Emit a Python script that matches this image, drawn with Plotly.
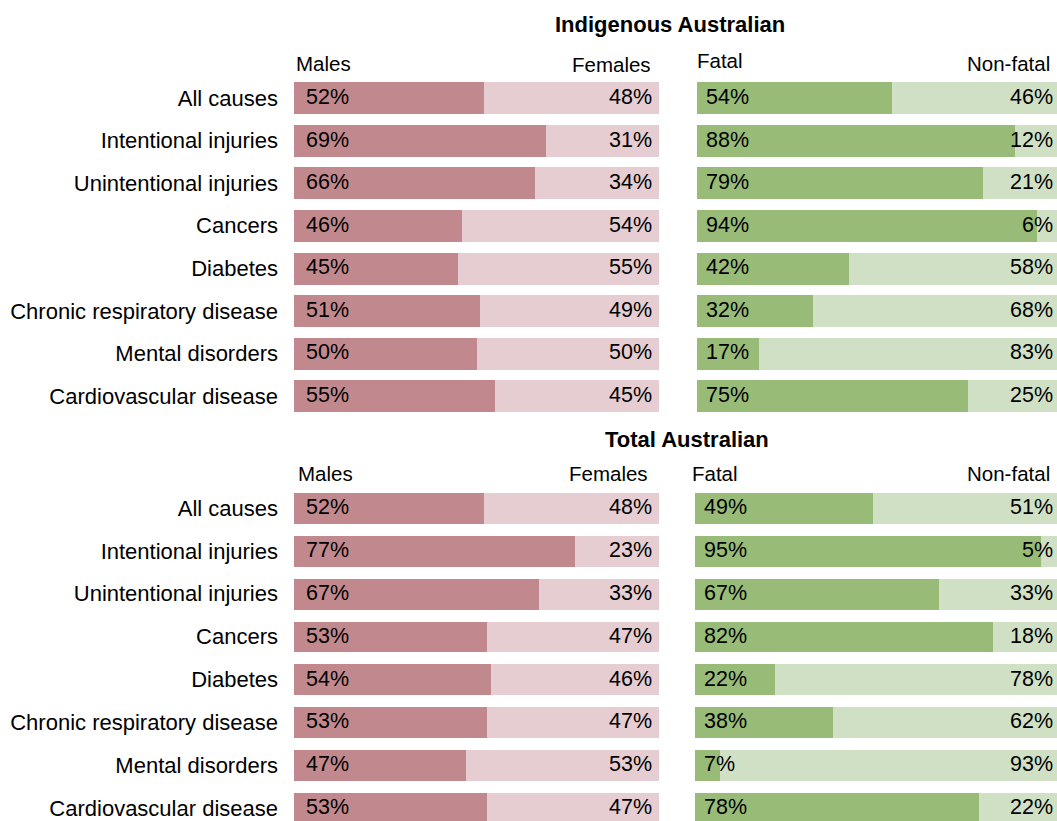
import plotly.graph_objects as go

categories = ["All causes", "Intentional injuries", "Unintentional injuries", "Cancers",
              "Diabetes", "Chronic respiratory disease", "Mental disorders", "Cardiovascular disease"]

indig_males = [52, 69, 66, 46, 45, 51, 50, 55]
indig_females = [48, 31, 34, 54, 55, 49, 50, 45]
indig_fatal = [54, 88, 79, 94, 42, 32, 17, 75]
indig_nonfatal = [46, 12, 21, 6, 58, 68, 83, 25]

total_males = [52, 77, 67, 53, 54, 53, 47, 53]
total_females = [48, 23, 33, 47, 46, 47, 53, 47]
total_fatal = [49, 95, 67, 82, 22, 38, 7, 78]
total_nonfatal = [51, 5, 33, 18, 78, 62, 93, 22]

W, H = 1057, 821
FONT = "Liberation Sans, Arial, sans-serif"
C_MALE, C_FEMALE = "#C1898D", "#E6CDD1"
C_FATAL, C_NONFATAL = "#98BB78", "#CFE0C5"
PCT_SIZE = 21.5
CAT_SIZE = 22
HDR_SIZE = 20.5

fig = go.Figure()

panels = [
    ("x", "y", indig_males, indig_females, (C_MALE, C_FEMALE), 0.75, 100),
    ("x2", "y2", indig_fatal, indig_nonfatal, (C_FATAL, C_NONFATAL), 0.75, 99.5),
    ("x3", "y3", total_males, total_females, (C_MALE, C_FEMALE), 0.72, 100),
    ("x4", "y4", total_fatal, total_nonfatal, (C_FATAL, C_NONFATAL), 0.72, 99.5),
]

annotations = []
for xa, ya, first, second, cols, bw, xmax in panels:
    fig.add_trace(go.Bar(y=categories, x=first, orientation="h", xaxis=xa, yaxis=ya,
                         marker=dict(color=cols[0], line=dict(width=0)), width=bw,
                         hoverinfo="skip", showlegend=False))
    fig.add_trace(go.Bar(y=categories, x=second, orientation="h", xaxis=xa, yaxis=ya,
                         marker=dict(color=cols[1], line=dict(width=0)), width=bw,
                         hoverinfo="skip", showlegend=False))
    is_left = xa in ("x", "x3")
    for c, a, b in zip(categories, first, second):
        annotations.append(dict(x=0, y=c, xref=xa, yref=ya, text=f"{a}%", showarrow=False,
                                xanchor="left", yanchor="middle",
                                xshift=10 if is_left else 7, yshift=1,
                                font=dict(size=PCT_SIZE, color="#000", family=FONT)))
        annotations.append(dict(x=xmax, y=c, xref=xa, yref=ya, text=f"{b}%", showarrow=False,
                                xanchor="right", yanchor="middle",
                                xshift=-5 if is_left else -2, yshift=1,
                                font=dict(size=PCT_SIZE, color="#000", family=FONT)))

def px(v):
    return v / W

def py(v):
    return 1 - v / H

top_dom = [py(417.3), py(76.7)]
bot_dom = [0, py(486.6)]

common_x = dict(showgrid=False, zeroline=False, showticklabels=False, ticks="", showline=False, fixedrange=True)
fig.update_layout(
    xaxis=dict(domain=[px(294), px(659)], range=[0, 100], anchor="y", **common_x),
    xaxis2=dict(domain=[px(697), 1], range=[0, 99.5], anchor="y2", **common_x),
    xaxis3=dict(domain=[px(294), px(659)], range=[0, 100], anchor="y3", **common_x),
    xaxis4=dict(domain=[px(695), 1], range=[0, 99.5], anchor="y4", **common_x),
    yaxis=dict(domain=top_dom, anchor="x", type="category", range=[7.5, -0.5],
               showgrid=False, zeroline=False, ticks="", ticklabelstandoff=15,
               tickfont=dict(size=CAT_SIZE, color="#000", family=FONT), fixedrange=True),
    yaxis2=dict(domain=top_dom, anchor="x2", type="category", range=[7.5, -0.5],
                showgrid=False, zeroline=False, showticklabels=False, fixedrange=True),
    yaxis3=dict(domain=bot_dom, anchor="x3", type="category", range=[7.3, -0.5],
                showgrid=False, zeroline=False, ticks="", ticklabelstandoff=15,
                tickfont=dict(size=CAT_SIZE, color="#000", family=FONT), fixedrange=True),
    yaxis4=dict(domain=bot_dom, anchor="x4", type="category", range=[7.3, -0.5],
                showgrid=False, zeroline=False, showticklabels=False, fixedrange=True),
)

def header(text, x, y, anchor, bold=False, size=HDR_SIZE):
    return dict(x=px(x), y=py(y), xref="paper", yref="paper", text=f"<b>{text}</b>" if bold else text,
                showarrow=False, xanchor=anchor, yanchor="middle",
                font=dict(size=size, color="#000", family=FONT))

annotations += [
    header("Indigenous Australian", 669.5, 25, "center", bold=True, size=22),
    header("Males", 294, 63, "left"),
    header("Females", 653, 65, "right"),
    header("Fatal", 695, 61, "left"),
    header("Non-fatal", 1052, 63, "right"),
    header("Total Australian", 687, 439, "center", bold=True, size=22),
    header("Males", 296, 473, "left"),
    header("Females", 650, 473, "right"),
    header("Fatal", 690, 473, "left"),
    header("Non-fatal", 1052, 473, "right"),
]

fig.update_layout(
    width=W, height=H, margin=dict(l=0, r=0, t=0, b=0),
    barmode="stack", bargap=0,
    plot_bgcolor="white", paper_bgcolor="white",
    font=dict(family=FONT, size=20, color="#000"),
    annotations=annotations,
)

fig.write_html(
    "out.html",
    config={"displayModeBar": False},
    post_script="document.body.style.margin='0';document.body.style.padding='0';"
                "document.documentElement.style.overflow='hidden';document.body.style.overflow='hidden';",
)
